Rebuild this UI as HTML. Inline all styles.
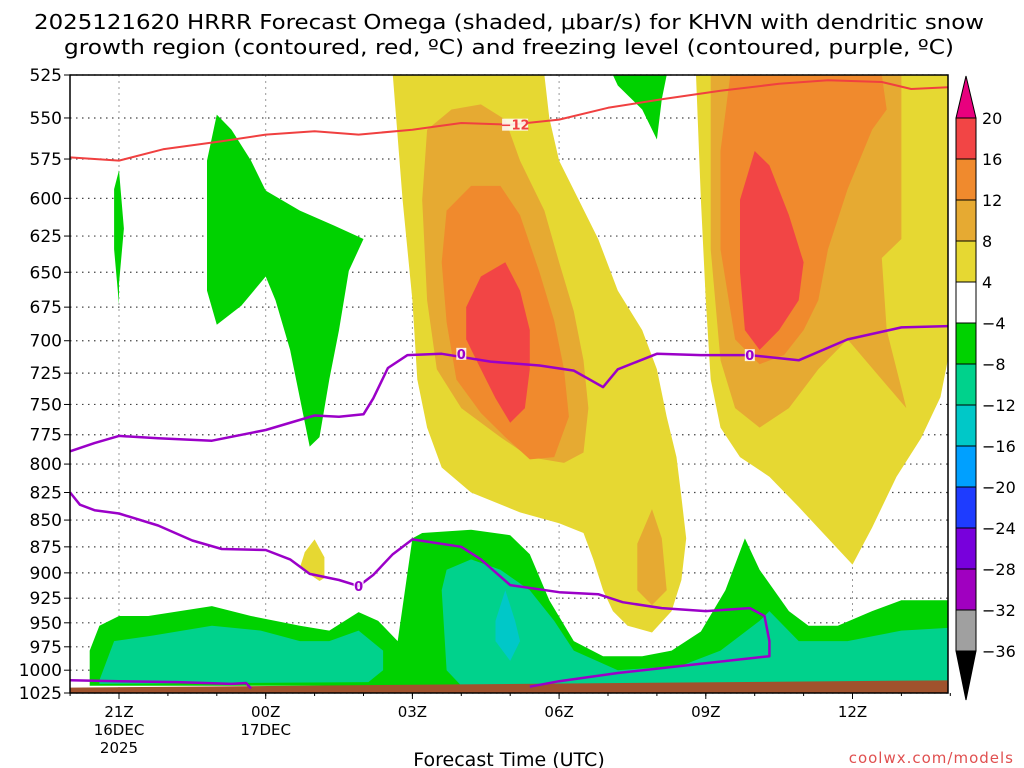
<!DOCTYPE html>
<html><head><meta charset="utf-8"><style>
html,body{margin:0;padding:0;background:#fff;}
svg{display:block;font-family:"DejaVu Sans","Liberation Sans",sans-serif;}
</style></head><body>
<svg id="chart" width="1024" height="768" viewBox="0 0 1024 768" xmlns="http://www.w3.org/2000/svg">
<text x="509" y="29" font-size="20" text-anchor="middle" textLength="950" lengthAdjust="spacingAndGlyphs">2025121620 HRRR Forecast Omega (shaded, μbar/s) for KHVN with dendritic snow</text>
<text x="509" y="54" font-size="20" text-anchor="middle" textLength="890" lengthAdjust="spacingAndGlyphs">growth region (contoured, red, ºC) and freezing level (contoured, purple, ºC)</text>
<g id="grid"></g>
<g id="shade"></g>
<g id="lines"></g>
<g id="axes"></g>
<g id="cbar"></g>
<text x="509" y="766" font-size="19" text-anchor="middle">Forecast Time (UTC)</text>
<text x="1014" y="763" font-size="15" fill="#e05050" text-anchor="end" letter-spacing="1">coolwx.com/models</text>
</svg>
<script>
const pLevels=[525,550,575,600,625,650,675,700,725,750,775,800,825,850,875,900,925,950,975,1000,1025];
const tHours=[0,3,6,9,12,15];
const tLabels=[["21Z","16DEC","2025"],["00Z","17DEC"],["03Z"],["06Z"],["09Z"],["12Z"]];
const cbLevels=[20,16,12,8,4,-4,-8,-12,-16,-20,-24,-28,-32,-36];
const cbColors=["#f24545","#f08a2d","#e6aa32","#e6d832","#ffffff","#00d200","#00d28c","#00c8c8","#00a0ff","#1e3cff","#7800dc","#a000c0","#a0a0a0"];
const dgzLine=[[-1,574],[0,576],[0.9,569],[2.1,564],[3,560],[4,558],[4.9,560],[6,557],[7,553],[8,554],[9,551],[10,544],[11.1,539],[12.3,534],[13.5,530],[14.5,528],[15.6,529],[16.2,533],[17,532]];
const frzA=[[-1,789],[-0.5,782],[0,776],[0.8,778],[1.9,780],[3,771],[4,759],[4.5,760],[5,758],[5.2,745],[5.5,721],[5.9,711],[6.6,710],[7.6,716],[8.6,719],[9.3,723],[9.9,736],[10.2,722],[11,710],[11.9,711],[12.9,711],[13.9,715],[14.9,699],[16,690],[17,689]];
const frzB=[[-1,825],[-0.8,836],[-0.5,841],[0,844],[0.8,855],[1.5,869],[2.1,877],[3,878],[3.5,887],[3.9,901],[4.5,907],[4.9,913],[5.2,902],[5.6,882],[6,868],[7,875],[7.4,887],[8,912],[9,919],[9.8,921],[10.3,929],[11.1,935],[12,938],[12.9,935],[13.2,943],[13.3,969],[13.3,985],[11.9,993],[10.2,1003],[9,1012],[8.4,1018]];
const frzC=[[-1,1011],[0,1012],[1.2,1013],[2.3,1015],[2.6,1014],[2.7,1020]];
const greenBottom=[[-0.6,1017],[-0.6,979],[-0.4,953],[0,943],[0.6,943],[1.9,933],[2.7,943],[3.7,953],[4.3,958],[4.9,939],[5.3,948],[5.7,969],[6,867],[6.2,862],[7.2,859],[8,864],[8.4,882],[8.8,927],[9.3,969],[9.9,985],[10.7,985],[11.3,979],[11.9,959],[12.4,917],[12.8,867],[13.1,897],[13.7,938],[14.1,953],[14.7,953],[15.4,938],[16,927],[17,927],[17,1017]];
const greenTall=[[1.8,620],[1.8,576],[2,548],[2.3,557],[2.7,576],[3,595],[3.7,608],[4.4,618],[5,627],[4.7,649],[4.5,692],[4.3,730],[4.1,777],[3.9,785],[3.7,745],[3.5,707],[3.2,670],[3,653],[2.5,674],[2,688],[1.8,663]];
const greenThin=[[-0.1,594],[0,582],[0.1,620],[0,658],[0,673],[-0.1,634]];
const greenTop=[[10.1,525],[11.2,525],[11.1,539],[11,563],[10.7,545],[10.2,531]];
const tealLeft=[[-0.4,1015],[-0.4,1011],[-0.1,969],[0.6,964],[1.9,953],[2.9,958],[3.7,969],[4.3,969],[4.9,958],[5.4,979],[5.4,1000],[5.1,1013]];
const tealMid=[[6.6,917],[6.7,897],[7.2,887],[7.8,897],[8.4,917],[8.9,948],[9.3,979],[10.2,1000],[11.5,995],[12.3,979],[13.1,948],[13.3,938],[13.9,969],[14.9,969],[16,958],[17,955],[17,1013],[7,1017],[6.7,1000]];
const cyanBlob=[[7.7,948],[7.9,917],[8.1,948],[8.2,969],[8,990],[7.7,969]];
const yellowMain=[[5.6,525],[8.7,525],[8.8,550],[9,576],[9.4,601],[9.8,627],[10.2,663],[10.7,692],[11,722],[11.2,760],[11.4,794],[11.5,829],[11.6,867],[11.5,907],[11.3,938],[10.9,960],[10.4,953],[10.1,938],[9.9,917],[9.7,887],[9.5,862],[9,853],[8.2,843],[7.2,825],[6.6,803],[6.3,769],[6.1,730],[6,670],[5.8,601]];
const yellowBlob=[[3.8,880],[4,868],[4.2,885],[4.2,905],[4.1,908],[3.7,895]];
const yellowRight=[[11.8,525],[17,525],[17,705],[16.8,744],[16.4,778],[15.9,811],[15.4,857],[15,892],[14.5,867],[13.9,838],[13.3,811],[12.7,794],[12.3,769],[12.1,730],[12,670],[11.9,601]];
const or8Main=[[6.3,557],[6.8,545],[7.4,542],[7.9,551],[8.2,576],[8.7,608],[9,643],[9.3,678],[9.5,715],[9.6,753],[9.5,790],[9.1,799],[8.4,794],[7.8,777],[7,753],[6.5,722],[6.3,670],[6.2,601]];
const or8Blob=[[10.6,872],[10.9,840],[11.1,867],[11.2,917],[10.9,932],[10.6,917]];
const or8Right=[[12.1,525],[16,525],[16,627],[15.6,640],[15.7,692],[16,737],[16.1,753],[15.6,730],[14.9,699],[14.3,722],[13.7,753],[13.1,769],[12.6,753],[12.3,715],[12.1,634]];
const or12Main=[[6.7,608],[7.2,592],[7.8,592],[8.2,611],[8.6,650],[8.9,685],[9.1,722],[9.2,760],[8.9,794],[8.4,796],[7.9,777],[7.4,757],[6.9,730],[6.7,686],[6.6,643]];
const or12Right=[[12.5,525],[15.6,525],[15.7,545],[15.4,557],[14.9,594],[14.5,634],[14.3,670],[14,692],[13.6,711],[13.1,718],[12.6,699],[12.3,634],[12.3,570]];
const redMain=[[7.1,675],[7.4,653],[7.9,643],[8.2,663],[8.4,692],[8.4,722],[8.3,753],[8,765],[7.7,745],[7.4,722],[7.1,699]];
const redRight=[[12.7,601],[13,570],[13.3,579],[13.7,611],[14,643],[13.9,670],[13.5,692],[13.1,707],[12.8,692],[12.7,650]];
const ground=[[-1,1019],[17,1011],[17,1025],[-1,1025]];

const X0=70,X1=948,Y0=75,Y1=693;
function xs(h){return 119+h*48.9;}
function ys(p){return Y0+(Math.log(p)-Math.log(525))/(Math.log(1025)-Math.log(525))*(Y1-Y0);}
const NS="http://www.w3.org/2000/svg";
function mk(tag,attrs,parent){const e=document.createElementNS(NS,tag);for(const k in attrs)e.setAttribute(k,attrs[k]);parent.appendChild(e);return e;}
function pts(a){return a.map(d=>xs(d[0]).toFixed(1)+","+ys(d[1]).toFixed(1)).join(" ");}
const clip=mk("clipPath",{id:"pc"},document.getElementById("chart"));
mk("rect",{x:X0,y:Y0,width:X1-X0,height:Y1-Y0},clip);

const grid=document.getElementById("grid");
pLevels.forEach(p=>{const l=mk("line",{x1:X0,x2:X1,y1:ys(p),y2:ys(p),stroke:"#444","stroke-width":1.2,"stroke-dasharray":"1.5,4.5"},grid);

});
tHours.forEach(h=>{const l=mk("line",{x1:xs(h),x2:xs(h),y1:Y0,y2:Y1,stroke:"#999","stroke-width":1,"stroke-dasharray":"2,4"},grid);

});

const shade=document.getElementById("shade");shade.setAttribute("clip-path","url(#pc)");
const polys=[["green-region",greenBottom,"#00d200"],["green-region",greenTall,"#00d200"],["green-region",greenThin,"#00d200"],["green-region",greenTop,"#00d200"],["teal-region",tealLeft,"#00d28c"],["teal-region",tealMid,"#00d28c"],["cyan-region",cyanBlob,"#00c8c8"],["yellow-region",yellowMain,"#e6d832"],["yellow-region",yellowBlob,"#e6d832"],["yellow-region",yellowRight,"#e6d832"],["orange8-region",or8Main,"#e6aa32"],["orange8-region",or8Blob,"#e6aa32"],["orange8-region",or8Right,"#e6aa32"],["orange12-region",or12Main,"#f08a2d"],["orange12-region",or12Right,"#f08a2d"],["red-region",redMain,"#f24545"],["red-region",redRight,"#f24545"],["ground",ground,"#a0522d"]];
polys.forEach(r=>{const e=mk("polygon",{points:pts(r[1]),fill:r[2]},shade);

});

const lines=document.getElementById("lines");lines.setAttribute("clip-path","url(#pc)");
[["dgz-minus12-line",dgzLine,"#f04040",2],["freezing-level-line",frzA,"#9b00c8",2.5],["freezing-level-line",frzB,"#9b00c8",2.5],["freezing-level-line",frzC,"#9b00c8",2.5]].forEach(r=>{
const e=mk("polyline",{points:pts(r[1]),fill:"none",stroke:r[2],"stroke-width":r[3],"stroke-linejoin":"round"},lines);

});
[["−12",8.1,554,"#f04040"],["0",7,710,"#9b00c8"],["0",12.9,711,"#9b00c8"],["0",4.9,913,"#9b00c8"]].forEach(c=>{
const bg=mk("rect",{x:xs(c[1])-(c[0].length*4+1),y:ys(c[2])-6,width:c[0].length*8+2,height:12,fill:"#fff","fill-opacity":0.85},lines);


const t=mk("text",{x:xs(c[1]),y:ys(c[2])+5,"font-size":13,"font-weight":"bold",fill:c[3],"text-anchor":"middle"},lines);
t.textContent=c[0];

});

const axes=document.getElementById("axes");
const fr=mk("rect",{x:X0,y:Y0,width:X1-X0,height:Y1-Y0,fill:"none",stroke:"#000","stroke-width":1.5},axes);


pLevels.forEach(p=>{mk("line",{x1:X0-6,x2:X0,y1:ys(p),y2:ys(p),stroke:"#000"},axes);
const t=mk("text",{x:X0-8,y:ys(p)+6,"font-size":17,"text-anchor":"end"},axes);t.textContent=p;

});
tHours.forEach((h,i)=>{mk("line",{x1:xs(h),x2:xs(h),y1:Y1,y2:Y1+6,stroke:"#000"},axes);
tLabels[i].forEach((s,j)=>{const t=mk("text",{x:xs(h),y:717+j*18,"font-size":15,"text-anchor":"middle"},axes);t.textContent=s;

});});
for(let h=-1;h<=17;h++){mk("line",{x1:xs(h),x2:xs(h),y1:Y1,y2:Y1+3,stroke:"#000"},axes);}

const cb=document.getElementById("cbar");
const CX=956,CW=20,CT=118,CS=41;
const up=mk("polygon",{points:`${CX},${CT} ${CX+CW},${CT} ${CX+CW/2},76`,fill:"#e8007e",stroke:"#000"},cb);


cbColors.forEach((c,i)=>{const r=mk("rect",{x:CX,y:CT+i*CS,width:CW,height:CS,fill:c,stroke:"#000","stroke-width":1},cb);

});
const dn=mk("polygon",{points:`${CX},${CT+13*CS} ${CX+CW},${CT+13*CS} ${CX+CW/2},${CT+13*CS+49}`,fill:"#000",stroke:"#000"},cb);


cbLevels.forEach((v,i)=>{const t=mk("text",{x:982,y:CT+i*CS+6,"font-size":16},cb);t.textContent=v<0?"−"+(-v):String(v);

});
</script>
</body></html>
